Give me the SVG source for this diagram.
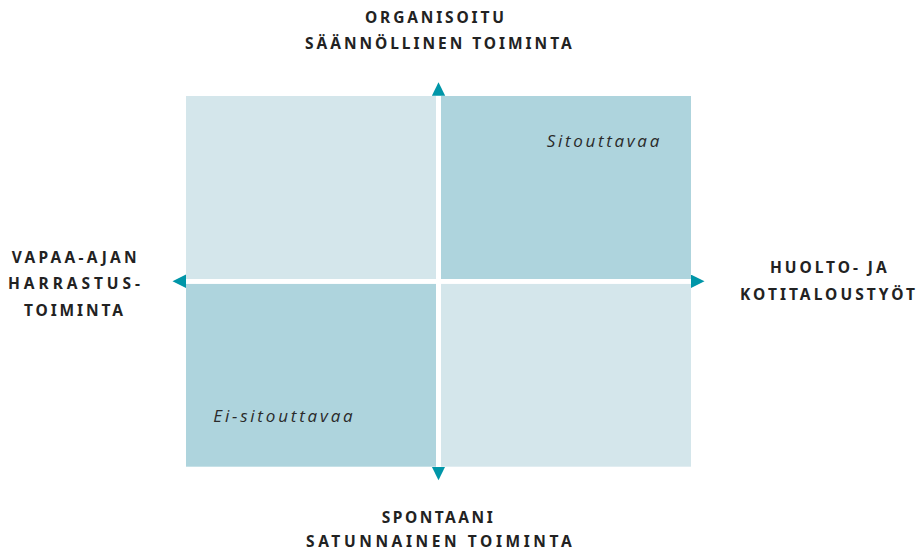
<svg xmlns="http://www.w3.org/2000/svg" width="918" height="551" viewBox="0 0 918 551">
  <style>
    .light { fill: #d4e6eb; }
    .dark { fill: #aed4dd; }
    .axis { stroke: #ffffff; stroke-width: 4.8; fill: none; }
    .head { font-family: "Noto Sans", "Liberation Sans", Arial, sans-serif; font-weight: bold; font-size: 15.5px; fill: #222222; }
    .quad { font-family: "Open Sans", "Liberation Sans", sans-serif; font-style: italic; font-size: 17px; fill: #2a2a2a; }
  </style>
  <defs>
    <marker id="arr" markerUnits="userSpaceOnUse" markerWidth="15" markerHeight="15" refX="0" refY="6.7" orient="auto-start-reverse" viewBox="0 0 15 15">
      <path d="M0,0 L13.5,6.7 L0,13.4 Z" fill="#0096a8"/>
    </marker>
  </defs>
  <rect width="918" height="551" fill="#ffffff"/>

  <g id="q-top-left"><rect class="light" x="186" y="96" width="250" height="183"/></g>
  <g id="q-top-right">
    <rect class="dark" x="441" y="96" width="250" height="183"/>
    <text class="quad" x="546.7" y="146.7" textLength="112.6" lengthAdjust="spacing">Sitouttavaa</text>
  </g>
  <g id="q-bottom-left">
    <rect class="dark" x="186" y="283.7" width="250" height="183"/>
    <text class="quad" x="213.3" y="422.3" textLength="139.4" lengthAdjust="spacing">Ei-sitouttavaa</text>
  </g>
  <g id="q-bottom-right"><rect class="light" x="441" y="283.7" width="250" height="183"/></g>

  <g id="connectors">
    <line class="axis" x1="438.5" y1="466.7" x2="438.5" y2="95.8" marker-end="url(#arr)" marker-start="url(#arr)"/>
    <line class="axis" x1="186" y1="281.3" x2="691" y2="281.3" marker-end="url(#arr)" marker-start="url(#arr)"/>
  </g>

  <g id="label-top">
    <text class="head" x="365" y="23.3" textLength="139" lengthAdjust="spacing">ORGANISOITU</text>
    <text class="head" x="305" y="48.7" textLength="266.7" lengthAdjust="spacing">SÄÄNNÖLLINEN TOIMINTA</text>
  </g>
  <g id="label-left">
    <text class="head" x="11.7" y="263.3" textLength="125" lengthAdjust="spacing">VAPAA-AJAN</text>
    <text class="head" x="8" y="289.3" textLength="132" lengthAdjust="spacing">HARRASTUS-</text>
    <text class="head" x="24" y="316" textLength="99" lengthAdjust="spacing">TOIMINTA</text>
  </g>
  <g id="label-right">
    <text class="head" x="770" y="273.3" textLength="116.7" lengthAdjust="spacing">HUOLTO- JA</text>
    <text class="head" x="740" y="300" textLength="175" lengthAdjust="spacing">KOTITALOUSTYÖT</text>
  </g>
  <g id="label-bottom">
    <text class="head" x="381.7" y="522.5" textLength="111" lengthAdjust="spacing">SPONTAANI</text>
    <text class="head" x="306" y="546.5" textLength="265.7" lengthAdjust="spacing">SATUNNAINEN TOIMINTA</text>
  </g>
</svg>
